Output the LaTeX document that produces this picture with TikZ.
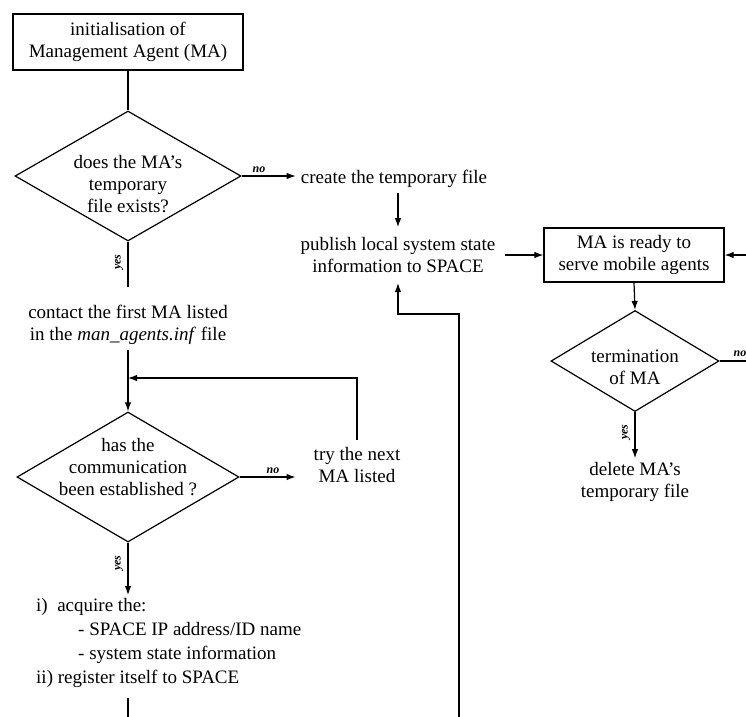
\documentclass[tikz,border=0pt]{standalone}
\usepackage{fontspec}
\setmainfont{Liberation Serif}
\usetikzlibrary{shapes.geometric,arrows.meta}
\begin{document}
\begin{tikzpicture}[x=1pt,y=-1pt,
  every node/.style={font=\fontsize{19}{22}\selectfont, inner sep=0pt},
  box/.style={draw, line width=1.2pt, align=center},
  dia/.style={draw, diamond, line width=1.2pt},
  txt/.style={align=center},
  lbl/.style={font=\fontsize{12}{13}\selectfont\itshape\bfseries},
  line/.style={line width=1.2pt},
  arr/.style={line width=1.2pt, -{Latex[length=9pt,width=6.5pt]}},
]
\useasboundingbox (0,0) rectangle (746,716);
\clip (0,0) rectangle (746,716);

% left column
\node[box, minimum width=230pt, minimum height=56pt] (init) at (128,42) {initialisation of\\Management Agent (MA)};
\node[dia, minimum width=226pt, minimum height=130pt] (d1) at (128,176) {};
\node[txt] (d1t) at (128,184) {does the MA’s\\temporary\\file exists?};
\node[txt] (contact) at (128,325) {contact the first MA listed\\in the \textit{man\_agents.inf} file};
\node[dia, minimum width=222pt, minimum height=130pt] (d2) at (128,477) {};
\node[txt] (d2t) at (128,467) {has the\\communication\\been established ?};
\node[txt] (try) at (357,465) {try the next\\MA listed};
\node[align=left, anchor=north west, font=\fontsize{19}{24}\selectfont] (acq) at (36,598)
  {i)\ \ acquire the:\\\hspace*{42pt}- SPACE IP address/ID name\\\hspace*{42pt}- system state information\\ii) register itself to SPACE};

% middle
\node[txt] (create) at (394,179) {create the temporary file};
\node[txt] (pub) at (398,255) {publish local system state\\information to SPACE};

% right column
\node[box, minimum width=180pt, minimum height=54pt] (ready) at (634,255) {MA is ready to\\serve mobile agents};
\node[dia, minimum width=168pt, minimum height=101pt] (d3) at (635,361) {};
\node[txt] (d3t) at (635,367) {termination\\of MA};
\node[txt] (del) at (635,482) {delete MA’s\\temporary file};

% labels
\node[lbl] (no1) at (259,170) {no};
\node[lbl, rotate=90] (yes1) at (119,262) {yes};
\node[lbl] (no2) at (273,471) {no};
\node[lbl, rotate=90] (yes2) at (119,563) {yes};
\node[lbl] (no3) at (740,354) {no};
\node[lbl, rotate=90] (yes3) at (626,432) {yes};

% coordinates
\coordinate (c1) at (128,287);
\coordinate (j) at (128,378);
\coordinate (a1) at (128,595);
\coordinate (a2) at (128,698);
\coordinate (a3) at (128,720);
\coordinate (b1) at (459,720);
\coordinate (b2) at (459,314);
\coordinate (p1) at (398,283);
\coordinate (r1) at (750,361);
\coordinate (r2) at (750,255);

% connectors
\draw[line] (init.south) -- (d1.north);
\draw[arr] (d1.east) -- ([xshift=-5pt]d1.east -| create.west);
\draw[line] (d1.south) -- (c1);
\draw[arr, shorten <=5pt, shorten >=10pt] (create.south -| pub.north) -- (pub.north);
\draw[arr] ([xshift=9pt]pub.east) -- (ready.west);
\draw[arr] (ready.south) -- (d3.north);
\draw[line] (d3.east) -- (r1);
\draw[arr] (r2) -- (ready.east);
\draw[arr, shorten >=4pt] (d3.south) -- (del.north);
\draw[arr, shorten <=5pt] (contact.south) -- (d2.north);
\draw[arr, shorten <=7pt] (try.north) |- (j);
\draw[arr] (d2.east) -- ([xshift=-18pt]try.west |- d2.east);
\draw[arr] (d2.south) -- (a1);
\draw[line] (a2) -- (a3);
\draw[arr] (b1) -- (b2) -| (p1);
\end{tikzpicture}
\end{document}
